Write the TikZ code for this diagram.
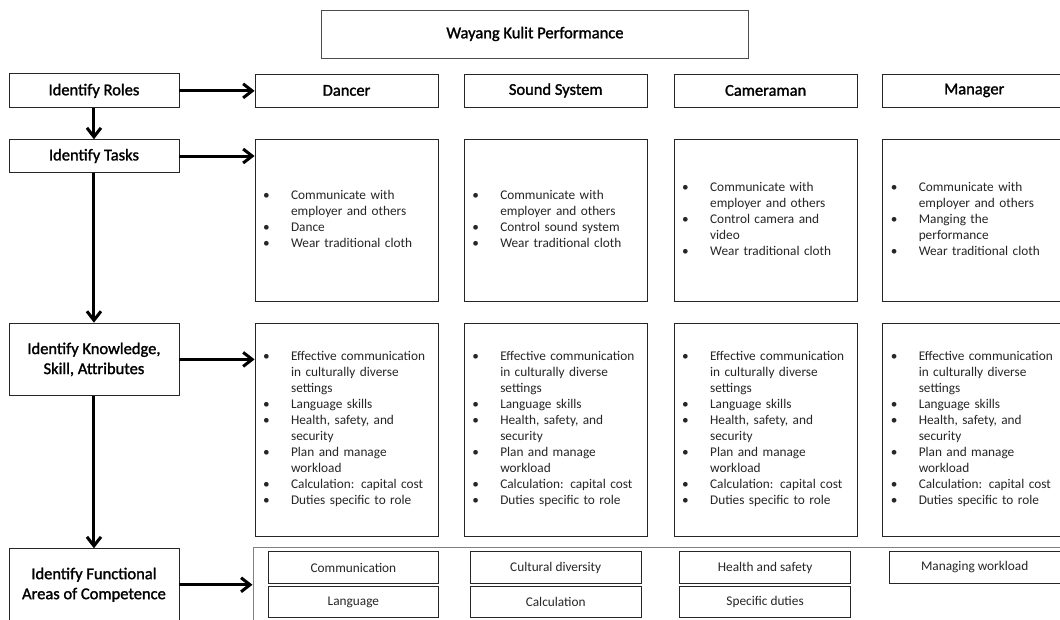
\documentclass[tikz,border=0pt]{standalone}
\usepackage{fontspec}
\setmainfont{Carlito}
\newfontfamily\hdfont[FakeBold=1.5]{Carlito}
\usetikzlibrary{arrows.meta}
\newcommand\myitem[1]{\makebox[28pt][l]{\textbullet} & #1\\}
\newcommand\mycont[1]{& #1\\}
\newcommand\tasklist[1]{\begin{tabular}{@{}l@{}l@{}}#1\end{tabular}}
\newcommand\ksalist{\tasklist{\myitem{Effective communication}\mycont{in culturally diverse}\mycont{settings}\myitem{Language skills}\myitem{Health, safety, and}\mycont{security}\myitem{Plan and manage}\mycont{workload}\myitem{Calculation: capital cost}\myitem{Duties specific to role}}}
\begin{document}
\begin{tikzpicture}[x=1pt,y=-1pt,
  box/.style={draw=black!85, line width=0.9pt, inner sep=0pt, anchor=north west},
  hbox/.style={box, align=center, font=\hdfont\fontsize{16.5}{20}\selectfont},
  lbox/.style={box, inner xsep=8pt, inner ysep=0pt, text width=167pt, align=left, font=\fontsize{13.3}{16}\selectfont, text=black!85},
  fbox/.style={box, minimum width=170.5pt, align=center, font=\fontsize{13.3}{16}\selectfont, text=black!85},
  arr/.style={line width=3pt, -{Straight Barb[length=9pt,width=14pt]}},
]
\clip (0,0) rectangle (1060,619);
\fill[white] (0,0) rectangle (1060,619);
% title
\node[hbox, draw=black!70, minimum width=427pt, minimum height=48pt] (title) at (321,9.5) {Wayang Kulit Performance};
% left column
\node[hbox, minimum width=170pt, minimum height=34pt] (roles) at (8.5,73.4) {Identify Roles};
\node[hbox, minimum width=170pt, minimum height=32.5pt] (tasks) at (8.5,139.3) {Identify Tasks};
\node[hbox, minimum width=170pt, minimum height=72.5pt] (ksa) at (8.5,322.7) {Identify Knowledge,\\Skill, Attributes};
\node[hbox, minimum width=170pt, minimum height=72pt] (func) at (8.5,548.3) {Identify Functional\\Areas of Competence};
% roles
\node[hbox, minimum width=183pt, minimum height=33pt] (dancer) at (254.6,73.5) {Dancer};
\node[hbox, minimum width=183pt, minimum height=33pt] (sound) at (463.8,73.5) {Sound System};
\node[hbox, minimum width=183pt, minimum height=33pt] (camera) at (673.7,73.5) {Cameraman};
\node[hbox, minimum width=183pt, minimum height=33pt] (manager) at (882.3,73.5) {Manager};
% tasks
\node[lbox, minimum height=162pt] (dtask) at (254.6,139) {\tasklist{\myitem{Communicate with}\mycont{employer and others}\myitem{Dance}\myitem{Wear traditional cloth}}};
\node[lbox, minimum height=162pt] (stask) at (463.8,139) {\tasklist{\myitem{Communicate with}\mycont{employer and others}\myitem{Control sound system}\myitem{Wear traditional cloth}}};
\node[lbox, minimum height=162pt] (ctask) at (673.7,139) {\tasklist{\myitem{Communicate with}\mycont{employer and others}\myitem{Control camera and}\mycont{video}\myitem{Wear traditional cloth}}};
\node[lbox, minimum height=162pt] (mtask) at (882.3,139) {\tasklist{\myitem{Communicate with}\mycont{employer and others}\myitem{Manging the}\mycont{performance}\myitem{Wear traditional cloth}}};
% knowledge, skill, attributes
\node[lbox, minimum height=213pt] (dksa) at (254.6,322.7) {\ksalist};
\node[lbox, minimum height=213pt] (sksa) at (463.8,322.7) {\ksalist};
\node[lbox, minimum height=213pt] (cksa) at (673.7,322.7) {\ksalist};
\node[lbox, minimum height=213pt] (mksa) at (882.3,322.7) {\ksalist};
% functional areas
\node[draw=black!50, line width=1.2pt, inner sep=0pt, anchor=north west, minimum width=830pt, minimum height=90pt] (frow) at (252.5,546.7) {};
\node[fbox, minimum height=32pt] (fcomm) at (267.7,551) {Communication};
\node[fbox, minimum height=31pt] (flang) at (267.7,586) {Language};
\node[fbox, minimum height=32pt] (fcult) at (470,551) {Cultural diversity};
\node[fbox, minimum height=31pt] (fcalc) at (470,586) {Calculation};
\node[fbox, minimum height=32pt] (fhealth) at (679.4,551) {Health and safety};
\node[fbox, minimum height=31pt] (fspec) at (679.4,586) {Specific duties};
\node[fbox, minimum height=32pt] (fmanage) at (889,551) {Managing workload};
% arrows
\draw[arr] (roles.east) -- (roles.east -| dancer.west);
\draw[arr] (tasks.east) -- (tasks.east -| dtask.west);
\draw[arr] (ksa.east) -- (ksa.east -| dksa.west);
\draw[arr] (func.east) -- (func.east -| frow.west);
\draw[arr] (roles.south) -- (tasks.north);
\draw[arr] (tasks.south) -- (ksa.north);
\draw[arr] (ksa.south) -- (func.north);
\end{tikzpicture}
\end{document}
